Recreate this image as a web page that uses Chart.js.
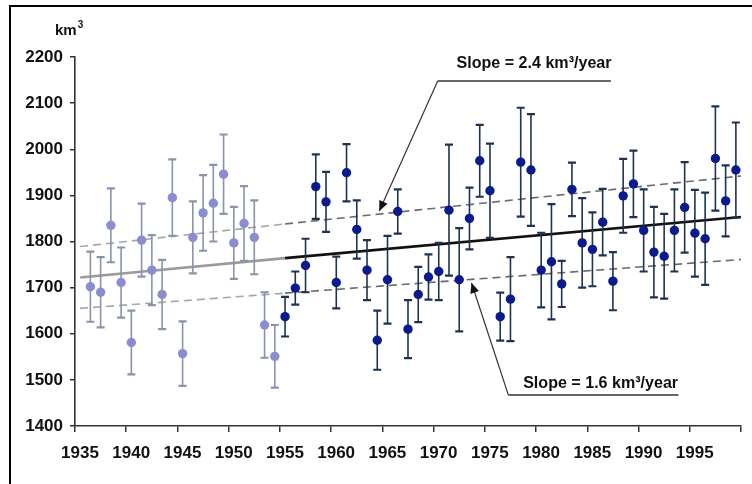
<!DOCTYPE html>
<html><head><meta charset="utf-8">
<script src="https://cdn.jsdelivr.net/npm/chart.js@4.4.0/dist/chart.umd.min.js"></script>
<style>html,body{margin:0;padding:0;background:#fff;overflow:hidden}canvas{display:block}</style>
</head><body>
<canvas id="c" width="752" height="484"></canvas>
<script>
// ---- data ----
const earlyYears = [1936,1937,1938,1939,1940,1941,1942,1943,1944,1945,1946,1947,1948,1949,1950,1951,1952,1953,1954];
const earlyVals  = [1702,1690,1835,1711,1581,1803,1738,1685,1895,1557,1809,1862,1883,1946,1797,1839,1809,1619,1551];
const earlyErr   = [76,76,80,76,69,79,76,75,83,70,78,82,83,86,78,81,80,71,68];

const lateYears = [1955,1956,1957,1958,1959,1960,1961,1962,1963,1964,1965,1966,1967,1968,1969,1970,1971,1972,1973,1974,1975,1976,1977,1978,1979,1980,1981,1982,1983,1984,1985,1986,1987,1988,1989,1990,1991,1992,1993,1994,1995,1996,1997,1998,1999];
const lateVals  = [1637,1699,1748,1919,1886,1711,1949,1826,1738,1586,1717,1865,1610,1685,1723,1735,1868,1717,1850,1975,1910,1637,1675,1972,1955,1738,1756,1708,1913,1797,1783,1842,1714,1899,1925,1824,1777,1768,1824,1874,1818,1806,1980,1888,1955];
const lateErr   = [43,36,58,70,65,56,62,63,65,64,95,48,63,60,49,62,142,112,67,78,102,52,91,118,121,81,125,50,58,97,80,72,63,80,72,89,98,92,89,98,94,100,113,77,103];

// trend lines: [x (year), value] read at the start, 1955 and right edge
const trendX     = [1935, 1955, 1999.5];
const trendMid   = [1722, 1764, 1853];
const trendUpper = [1789, 1838, 1942];
const trendLower = [1655, 1688, 1761];

const xTickVals = [1934.5,1939.5,1944.5,1949.5,1954.5,1959.5,1964.5,1969.5,1974.5,1979.5,1984.5,1989.5,1994.5,1999.5];
const yTicks = {min:1400, max:2200, step:100};

const upperLabel = 'Slope = 2.4 km\u00B3/year';
const lowerLabel = 'Slope = 1.6 km\u00B3/year';
const unitLabel = 'km';

// ---- fonts ----
function hasFont(name){
  const c=document.createElement('canvas').getContext('2d');
  const t='1935 Slope abcdefghijklm';
  c.font='bold 40px monospace'; const a=c.measureText(t).width;
  c.font='bold 40px "'+name+'", monospace'; const b=c.measureText(t).width;
  return Math.abs(a-b)>0.5;
}
const narrow = hasFont('Liberation Sans Narrow');
const xFont = narrow ? {family:'"Liberation Sans Narrow"', size:22, weight:'bold'} : {family:'"Liberation Sans", Arial, sans-serif', size:17, weight:'bold'};
const xPad = narrow ? 8 : 11;

function pts(xs, ys){ return xs.map((x,i)=>({x:x, y:ys[i]})); }
function seg(ys, a, b){ return [{x:trendX[a], y:ys[a]}, {x:trendX[b], y:ys[b]}]; }

const errorBars = {
  id:'errorBars',
  beforeDatasetDraw(chart, args){
    const ds = chart.data.datasets[args.index];
    if(!ds.err) return;
    const ctx = chart.ctx, xs = chart.scales.x, ys = chart.scales.y;
    ctx.save();
    ctx.strokeStyle = ds.errColor;
    ds.data.forEach((p,i)=>{
      const px = xs.getPixelForValue(p.x);
      const top = ys.getPixelForValue(p.y + ds.err[i]);
      const bot = ys.getPixelForValue(p.y - ds.err[i]);
      ctx.lineWidth = 1.6;
      ctx.beginPath(); ctx.moveTo(px, top); ctx.lineTo(px, bot); ctx.stroke();
      ctx.lineWidth = 2.2;
      ctx.beginPath(); ctx.moveTo(px-4, top); ctx.lineTo(px+4, top);
      ctx.moveTo(px-4, bot); ctx.lineTo(px+4, bot); ctx.stroke();
    });
    ctx.restore();
  }
};

function arrowHead(ctx, fx, fy, tx, ty){
  const ang = Math.atan2(ty-fy, tx-fx), L=10, W=4.5;
  ctx.beginPath();
  ctx.moveTo(tx, ty);
  ctx.lineTo(tx - L*Math.cos(ang) + W*Math.sin(ang), ty - L*Math.sin(ang) - W*Math.cos(ang));
  ctx.lineTo(tx - L*Math.cos(ang) - W*Math.sin(ang), ty - L*Math.sin(ang) + W*Math.cos(ang));
  ctx.closePath(); ctx.fill();
}

function slopeNote(ctx, xs, ys, n){
  const cx = xs.getPixelForValue(n.textX), cy = ys.getPixelForValue(n.textY);
  ctx.save();
  ctx.font = 'bold 17px "Liberation Sans", Arial, sans-serif';
  ctx.fillStyle = '#111'; ctx.textAlign='center'; ctx.textBaseline='middle';
  const w = ctx.measureText(n.text).width;
  ctx.translate(cx, cy); ctx.scale(n.width/w, 1);
  ctx.fillText(n.text, 0, 0);
  ctx.restore();
  const u1 = xs.getPixelForValue(n.lineX1), u2 = xs.getPixelForValue(n.lineX2), uy = ys.getPixelForValue(n.lineY);
  const tx = xs.getPixelForValue(n.tipX), ty = ys.getPixelForValue(n.tipY);
  ctx.save();
  ctx.strokeStyle='#333'; ctx.fillStyle='#111';
  ctx.lineWidth=1.5;
  ctx.beginPath(); ctx.moveTo(u2, uy); ctx.lineTo(u1, uy); ctx.stroke();
  ctx.lineWidth=1.2;
  ctx.beginPath(); ctx.moveTo(u1, uy); ctx.lineTo(tx, ty); ctx.stroke();
  arrowHead(ctx, u1, uy, tx, ty);
  ctx.restore();
}

const notes = {
  id:'notes',
  afterDraw(chart){
    const ctx = chart.ctx, xs = chart.scales.x, ys = chart.scales.y;
    // frame
    ctx.save();
    ctx.strokeStyle='#000'; ctx.lineWidth=2;
    ctx.strokeRect(10, 6, 800, 600);
    // unit label
    ctx.fillStyle='#111';
    ctx.font='bold 15px "Liberation Sans", Arial, sans-serif';
    ctx.textBaseline='alphabetic'; ctx.textAlign='left';
    const ux = chart.chartArea.left - 20;
    ctx.fillText(unitLabel, ux, 35);
    const uw = ctx.measureText(unitLabel).width;
    ctx.font='bold 10px "Liberation Sans", Arial, sans-serif';
    ctx.fillText('3', ux + uw + 1, 28);
    ctx.restore();
    slopeNote(ctx, xs, ys, {text:upperLabel, width:155, textX:1979.3, textY:2187, lineX1:1969.9, lineX2:1986.8, lineY:2148, tipX:1964.2, tipY:1866});
    slopeNote(ctx, xs, ys, {text:lowerLabel, width:155, textX:1985.8, textY:1493, lineX1:1976.8, lineX2:1993.4, lineY:1467, tipX:1973.2, tipY:1710});
  }
};

new Chart(document.getElementById('c'), {
  type:'scatter',
  data:{datasets:[
    {label:'early', data:pts(earlyYears, earlyVals), err:earlyErr, errColor:'#8894aa',
     backgroundColor:'#8a8dcf', borderColor:'#8a8dcf', borderWidth:0, pointRadius:4.7, order:1},
    {label:'late', data:pts(lateYears, lateVals), err:lateErr, errColor:'#1d3350',
     backgroundColor:'#0b1a8c', borderColor:'#0b1a8c', borderWidth:0, pointRadius:4.7, order:0},
    {type:'line', data:seg(trendUpper,0,1), borderColor:'#a5a5a5', borderWidth:1.6, borderDash:[8,5], pointRadius:0, order:5},
    {type:'line', data:seg(trendUpper,1,2), borderColor:'#6a6a6a', borderWidth:1.6, borderDash:[8,5], pointRadius:0, order:5},
    {type:'line', data:seg(trendLower,0,1), borderColor:'#a5a5a5', borderWidth:1.6, borderDash:[8,5], pointRadius:0, order:5},
    {type:'line', data:seg(trendLower,1,2), borderColor:'#6a6a6a', borderWidth:1.6, borderDash:[8,5], pointRadius:0, order:5},
    {type:'line', data:seg(trendMid,0,1), borderColor:'#9b9b9b', borderWidth:2.6, pointRadius:0, order:5},
    {type:'line', data:seg(trendMid,1,2), borderColor:'#111111', borderWidth:2.6, pointRadius:0, order:4}
  ]},
  options:{
    responsive:false, animation:false, devicePixelRatio:1,
    layout:{padding:{top:57, right:1, left:0, bottom:0}},
    plugins:{legend:{display:false}, tooltip:{enabled:false}},
    scales:{
      x:{type:'linear', min:1934.5, max:1999.5,
        afterBuildTicks:s=>{ s.ticks = xTickVals.map(v=>({value:v})); },
        afterFit:s=>{ s.height = 58; },
        ticks:{autoSkip:false, maxRotation:0, labelOffset:5, padding:xPad, color:'#111', font:xFont,
          callback:v=> v < 1999 ? String(v+0.5) : ''},
        grid:{drawOnChartArea:false, drawTicks:true, tickLength:6, color:'#333', lineWidth:1.5},
        border:{color:'#333', width:1.6}},
      y:{min:yTicks.min, max:yTicks.max,
        afterFit:s=>{ s.width = 75; },
        ticks:{stepSize:yTicks.step, padding:7, color:'#111', callback:v=>String(v),
          font:{family:'"Liberation Sans", Arial, sans-serif', size:17, weight:'bold'}},
        grid:{drawOnChartArea:false, drawTicks:true, tickLength:5, color:'#333', lineWidth:1.5},
        border:{color:'#333', width:1.6}}
    }
  },
  plugins:[errorBars, notes]
});
</script>
</body></html>
